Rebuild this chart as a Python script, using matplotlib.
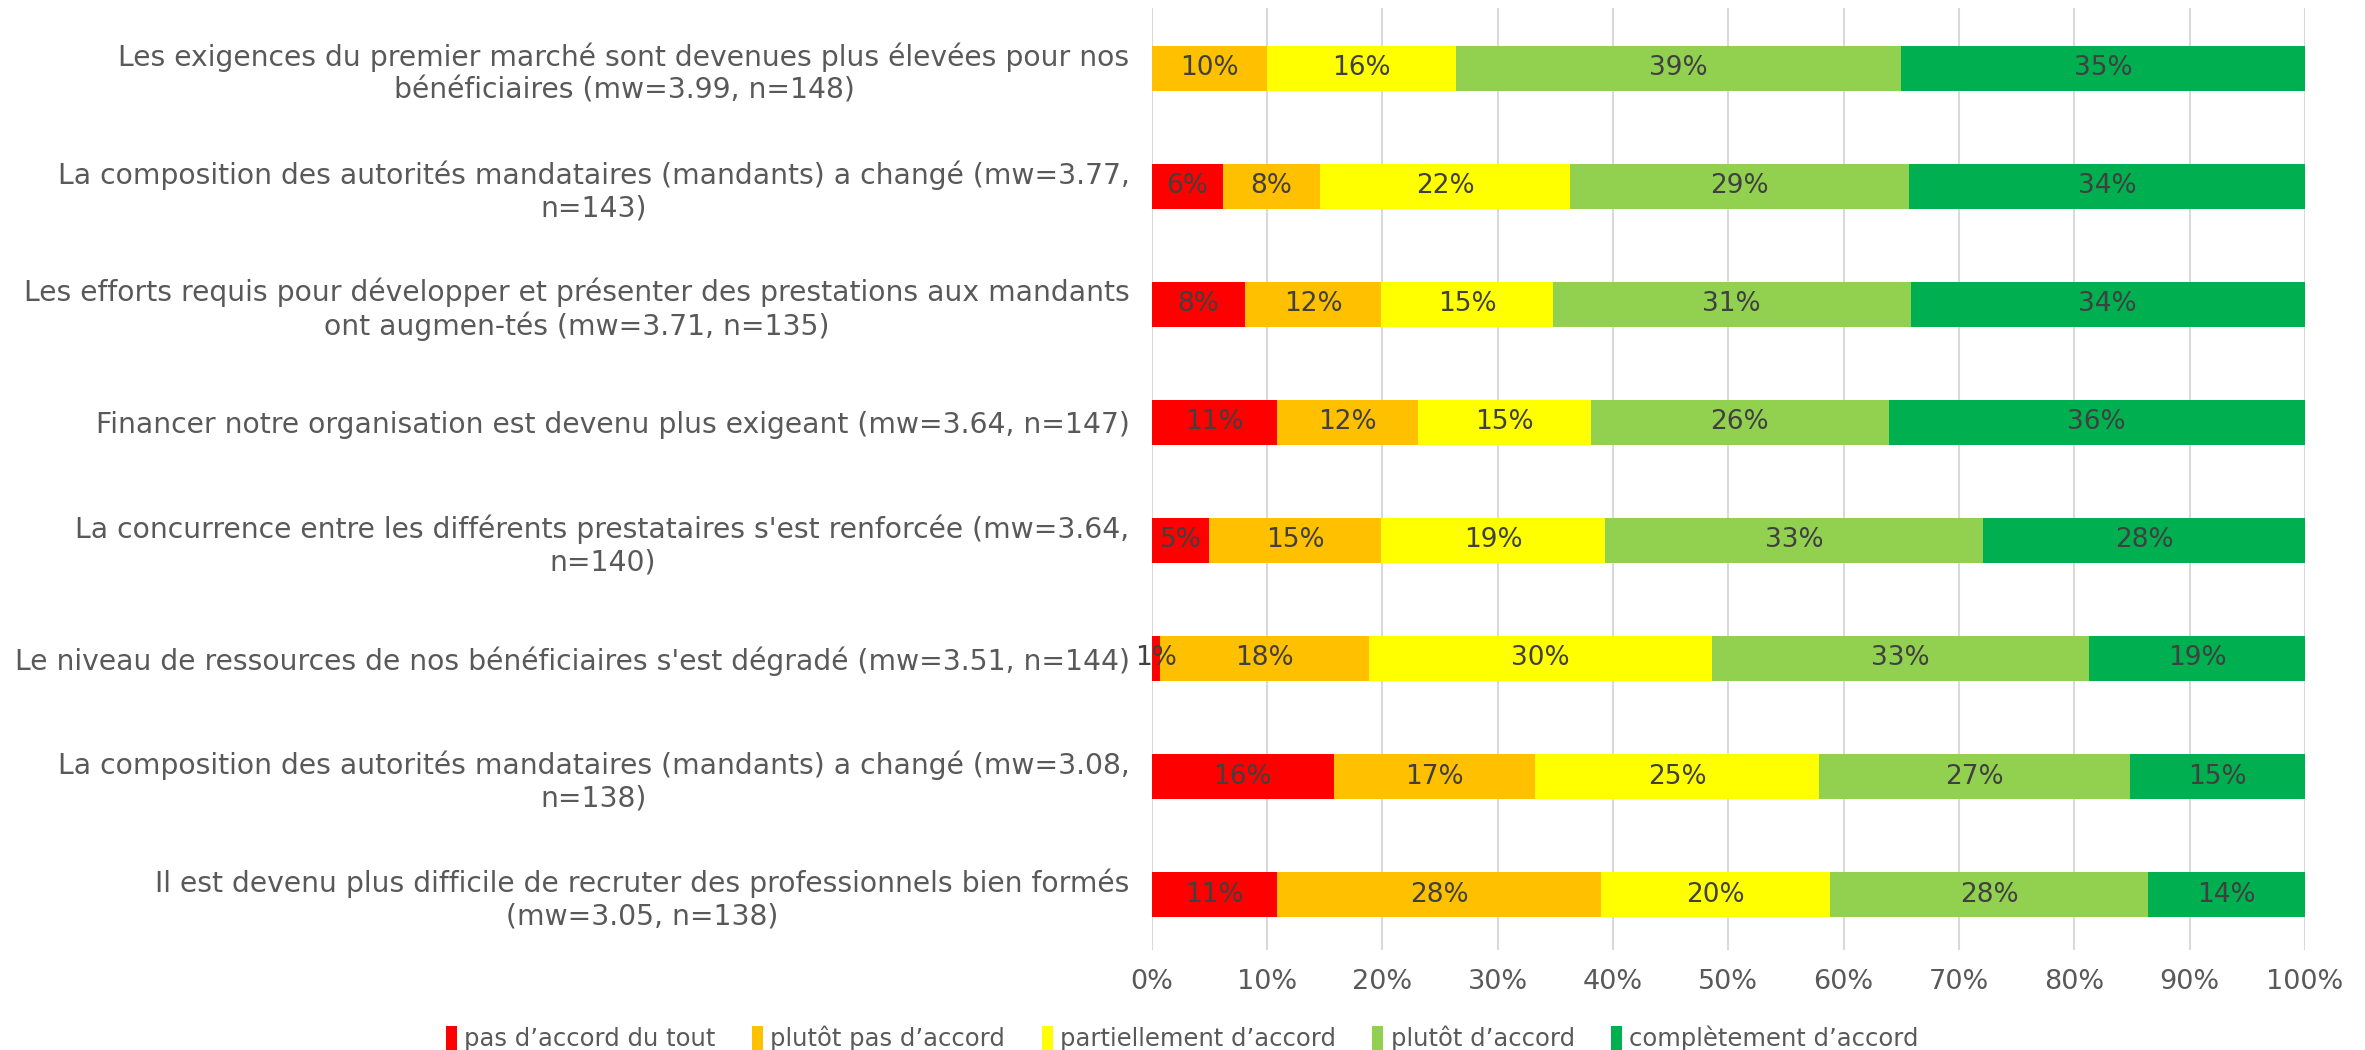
import matplotlib
matplotlib.use("Agg")
import matplotlib.pyplot as plt
from matplotlib import font_manager
import numpy as np

# police etroite si dispo
noms = {f.name for f in font_manager.fontManager.ttflist}
police = "Liberation Sans Narrow" if "Liberation Sans Narrow" in noms else "DejaVu Sans"
plt.rcParams["font.family"] = [police, "DejaVu Sans"]

questions = [
    "Les exigences du premier marché sont devenues plus élevées pour nos\nbénéficiaires (mw=3.99, n=148)",
    "La composition des autorités mandataires (mandants) a changé (mw=3.77,\nn=143)",
    "Les efforts requis pour développer et présenter des prestations aux mandants\nont augmen-tés (mw=3.71, n=135)",
    "Financer notre organisation est devenu plus exigeant (mw=3.64, n=147)",
    "La concurrence entre les différents prestataires s'est renforcée (mw=3.64,\nn=140)",
    "Le niveau de ressources de nos bénéficiaires s'est dégradé (mw=3.51, n=144)",
    "La composition des autorités mandataires (mandants) a changé (mw=3.08,\nn=138)",
    "Il est devenu plus difficile de recruter des professionnels bien formés\n(mw=3.05, n=138)",
]

categories = ["pas d’accord du tout", "plutôt pas d’accord", "partiellement d’accord",
              "plutôt d’accord", "complètement d’accord"]

pas_du_tout = [0.0, 6.2, 8.1, 10.9, 5.0, 0.7, 15.8, 10.9]
plutot_pas = [10.0, 8.4, 11.8, 12.2, 14.9, 18.1, 17.4, 28.1]
partiellement = [16.4, 21.7, 14.9, 15.0, 19.4, 29.8, 24.7, 19.8]
plutot = [38.6, 29.4, 31.0, 25.8, 32.8, 32.7, 26.9, 27.6]
completement = [35.0, 34.3, 34.2, 36.1, 27.9, 18.7, 15.2, 13.6]

couleurs = ["#FF0000", "#FFC000", "#FFFF00", "#92D050", "#00B050"]
series = [pas_du_tout, plutot_pas, partiellement, plutot, completement]

fig = plt.figure(figsize=(23.65, 10.5), dpi=100)
ax = fig.add_axes([0.487, 0.0952, 0.4876, 0.8972])

y = np.arange(len(questions))
gauche = np.zeros(len(questions))
for vals, coul, nom in zip(series, couleurs, categories):
    vals = np.array(vals)
    ax.barh(y, vals, left=gauche, height=0.38, color=coul, label=nom, zorder=3)
    for yi, g, v in zip(y, gauche, vals):
        if v > 0:
            ax.text(g + v / 2, yi, "%d%%" % round(v), ha="center", va="center",
                    fontsize=19, color="#404040", zorder=4)
    gauche += vals

ax.set_xlim(0, 100)
ax.set_ylim(7.47, -0.51)
ax.set_xticks(np.arange(0, 101, 10))
ax.set_xticklabels(["%d%%" % t for t in range(0, 101, 10)])
ax.set_yticks(y)
ax.set_yticklabels(questions, multialignment="center")
ax.tick_params(axis="both", length=0, labelsize=19.5, colors="#595959")
ax.tick_params(axis="y", labelsize=20.3, pad=16)
ax.tick_params(axis="x", pad=14)
ax.grid(axis="x", color="#D9D9D9", linewidth=1.5, zorder=0)
for s in ax.spines.values():
    s.set_visible(False)

leg = fig.legend(loc="center", bbox_to_anchor=(0.5, 0.011), ncol=5, frameon=False,
                 fontsize=17.5, handlelength=0.45, handleheight=1.1, handletextpad=0.3,
                 columnspacing=1.5)
for t in leg.get_texts():
    t.set_color("#595959")

fig.savefig("out.png", dpi=100)
